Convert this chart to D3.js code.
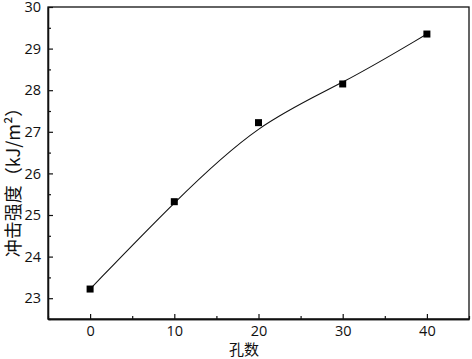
<!DOCTYPE html>
<html>
<head>
<meta charset="utf-8">
<script src="https://cdn.jsdelivr.net/npm/d3@7"></script>
<style>
  body { margin: 0; background: #fff; }
  text { font-family: "Open Sans", "Noto Sans CJK SC", sans-serif; fill: #111; }
  .title { font-family: "Noto Sans CJK SC", sans-serif; }
</style>
</head>
<body>
<div id="chart"></div>
<script>
// hole count vs impact strength
const holes = [0, 10, 20, 30, 40];
const strength = [23.22, 25.32, 27.22, 28.15, 29.35];
const xTicks = [0, 10, 20, 30, 40];
const yTicks = [23, 24, 25, 26, 27, 28, 29, 30];

const width = 472,
    height = 359,
    margin = { top: 7, right: 3, bottom: 40, left: 48 };

const svg = d3
    .select("#chart")
    .append("svg")
    .attr("width", width)
    .attr("height", height);

const x = d3.scaleLinear().domain([-5, 45]).range([margin.left, width - margin.right]);
const y = d3.scaleLinear().domain([22.5, 30]).range([height - margin.bottom, margin.top]);

const data = holes.map((h, i) => ({ x: h, y: strength[i] }));

// frame
svg.append("rect")
    .attr("x", margin.left)
    .attr("y", margin.top)
    .attr("width", width - margin.right - margin.left)
    .attr("height", height - margin.bottom - margin.top)
    .attr("fill", "none")
    .attr("stroke", "#111")
    .attr("stroke-width", 1.3);

// axes, ticks point inward
svg.append("g")
    .attr("transform", `translate(0,${height - margin.bottom})`)
    .call(d3.axisBottom(x).tickValues(xTicks).tickSizeInner(-5).tickSizeOuter(0).tickPadding(7));
svg.append("g")
    .attr("transform", `translate(0,${height - margin.bottom})`)
    .call(d3.axisBottom(x).tickValues([-5, 5, 15, 25, 35, 45]).tickSizeInner(-3).tickSizeOuter(0).tickFormat(""));
svg.append("g")
    .attr("transform", `translate(${margin.left},0)`)
    .call(d3.axisLeft(y).tickValues(yTicks).tickSizeInner(-5).tickSizeOuter(0).tickPadding(7));
svg.append("g")
    .attr("transform", `translate(${margin.left},0)`)
    .call(d3.axisLeft(y).tickValues(d3.range(22.5, 30, 1)).tickSizeInner(-3).tickSizeOuter(0).tickFormat(""));

svg.selectAll(".domain").attr("stroke", "#111").attr("stroke-width", 1.3);
svg.selectAll(".tick line").attr("stroke", "#111").attr("stroke-width", 1.2);
svg.selectAll(".tick text").style("font-size", "14.5px").attr("fill", "#111");

// smoothed line
svg.append("path")
    .datum(data)
    .attr("fill", "none")
    .attr("stroke", "#111")
    .attr("stroke-width", 1.1)
    .attr("d", d3.line().x((d) => x(d.x)).y((d) => y(d.y)).curve(d3.curveBasis));

svg.append("g")
    .selectAll("rect")
    .data(data)
    .join("rect")
    .attr("x", (d) => x(d.x) - 3.5)
    .attr("y", (d) => y(d.y) - 3.5)
    .attr("width", 7)
    .attr("height", 7)
    .attr("fill", "#000");

// axis titles
svg.append("text")
    .attr("class", "title")
    .attr("x", 244)
    .attr("y", 355)
    .attr("text-anchor", "middle")
    .style("font-size", "15px")
    .text("孔数");

svg.append("text")
    .attr("class", "title")
    .attr("transform", `translate(20,178) rotate(-90)`)
    .attr("text-anchor", "middle")
    .style("font-size", "18px")
    .text("冲击强度（kJ/m²）");
</script>
</body>
</html>
